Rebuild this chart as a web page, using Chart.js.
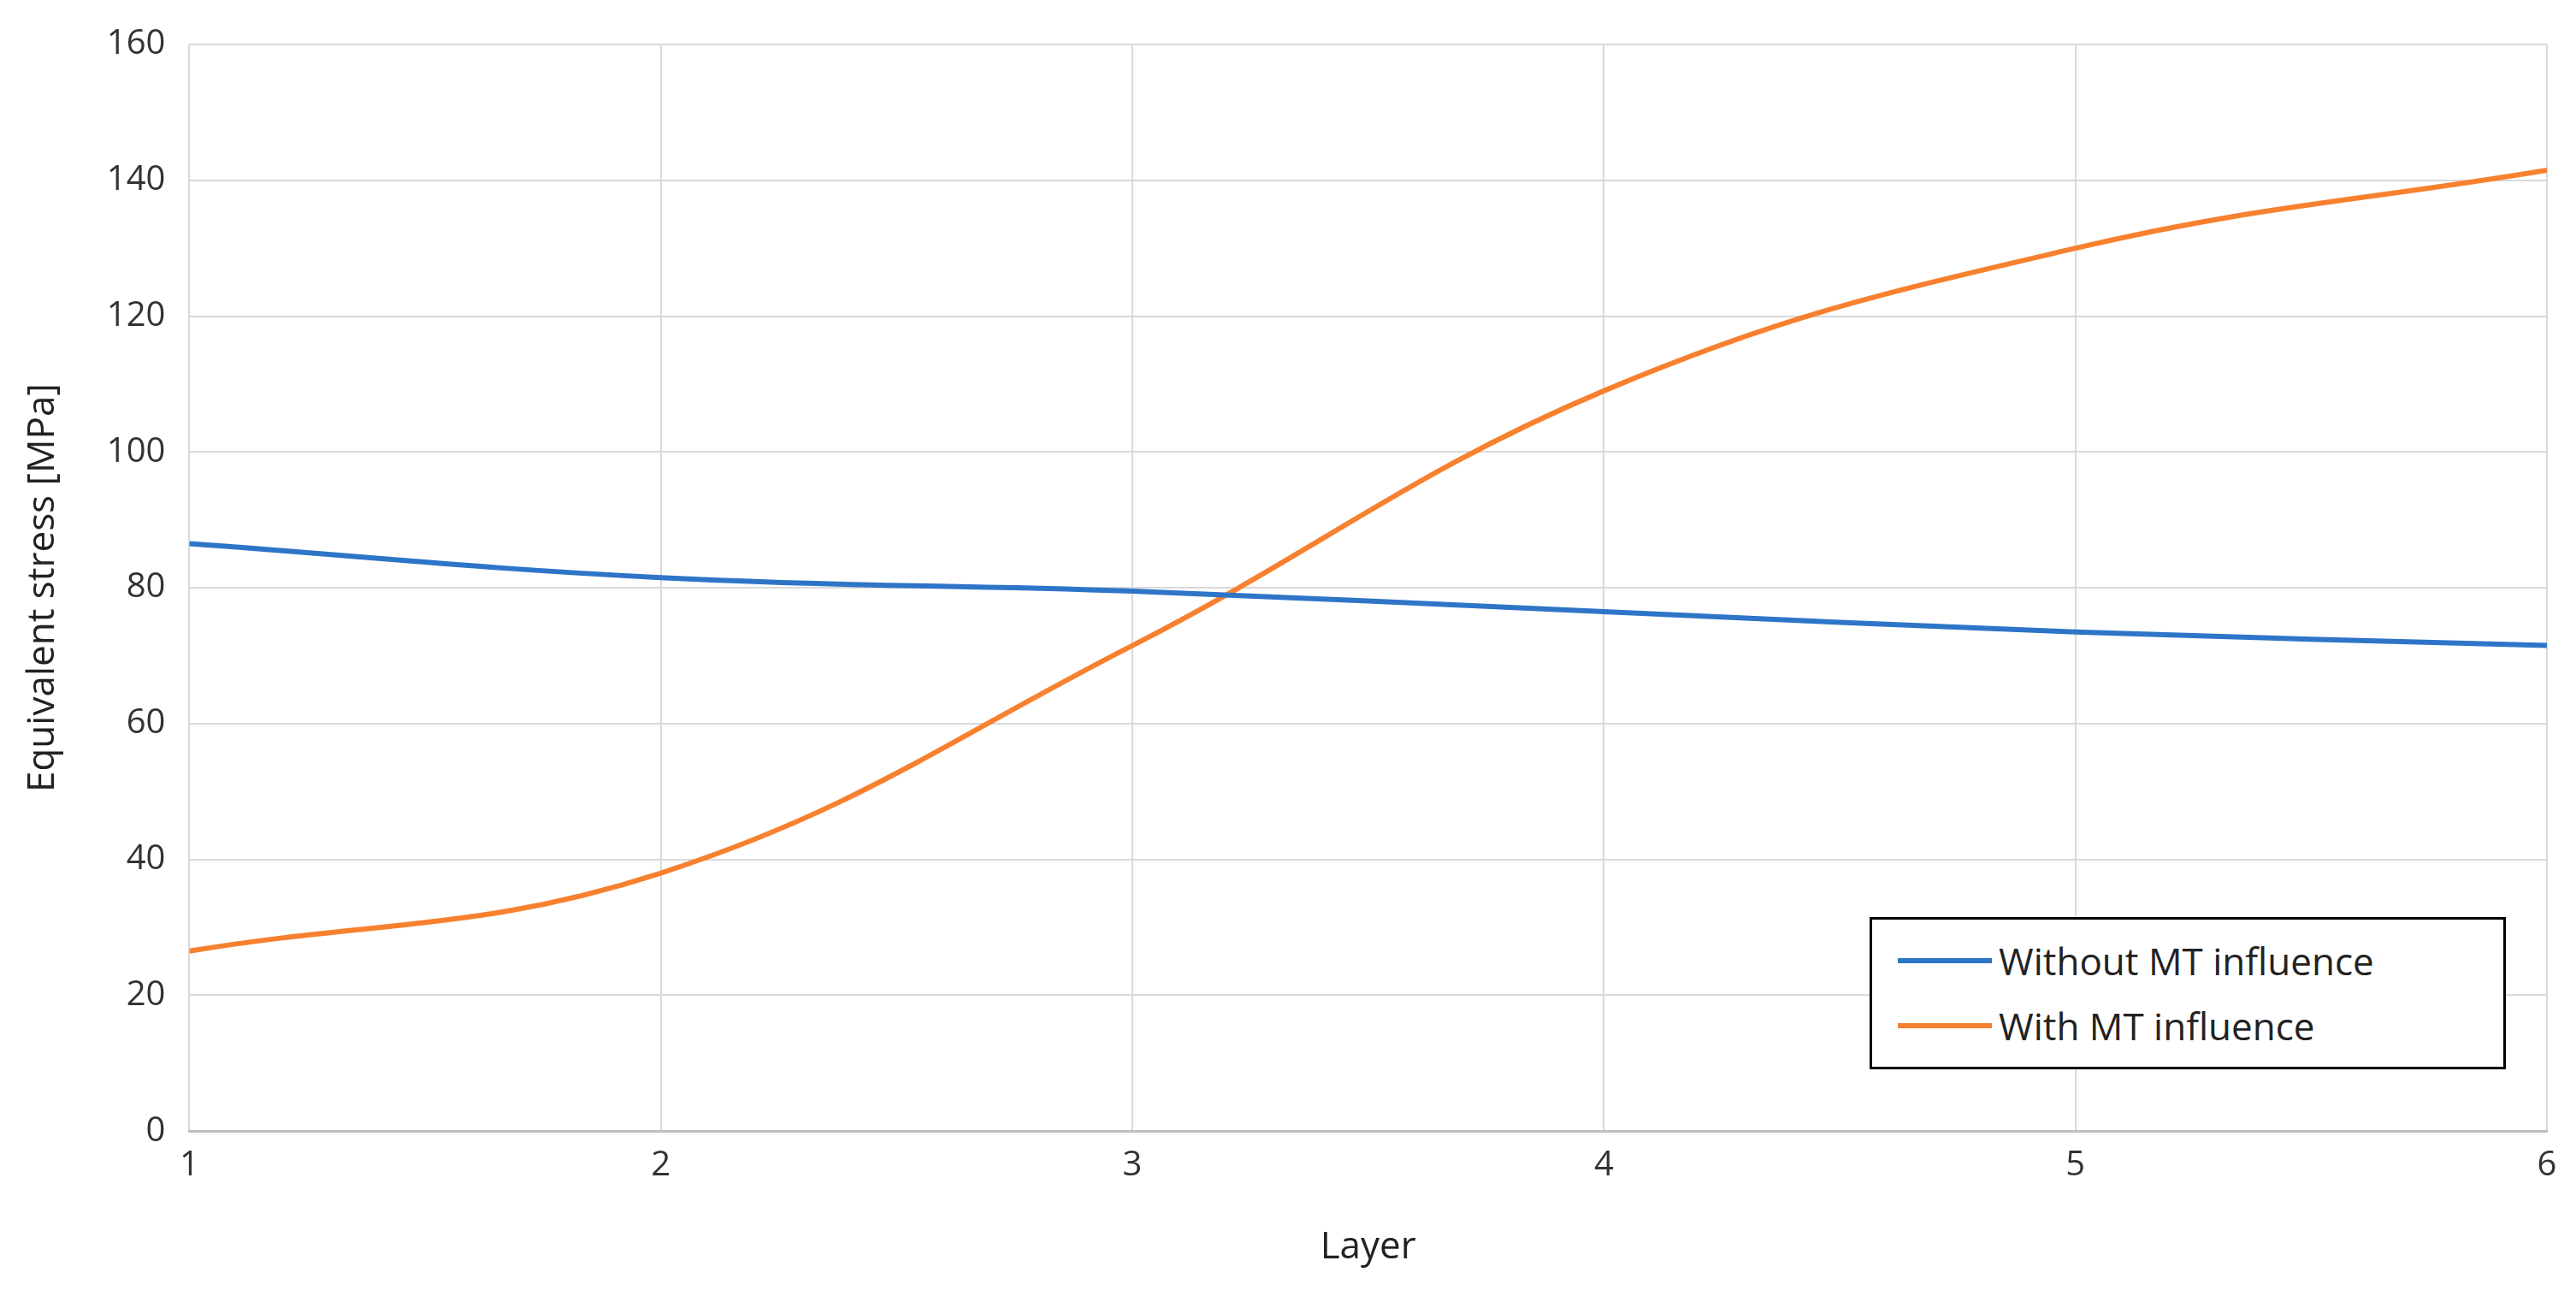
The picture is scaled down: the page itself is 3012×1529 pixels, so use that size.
<!DOCTYPE html>
<html>
<head>
<meta charset="utf-8">
<script src="https://cdn.jsdelivr.net/npm/chart.js@4"></script>
<style>
  html, body { margin: 0; padding: 0; background: #fff; }
  #wrap { position: relative; width: 3012px; height: 1529px; }
  #legend {
    position: absolute; left: 2186px; top: 1072px; width: 744px; height: 178px;
    border: 3px solid #000; background: #fff; box-sizing: border-box;
    font-family: "Open Sans", "Liberation Sans", sans-serif; font-size: 44px; color: #222;
    padding: 10px 0 0 30px;
  }
  .item { display: flex; align-items: center; height: 76px; }
  .swatch { width: 110px; height: 6px; margin-right: 8px; }
</style>
</head>
<body>
<div id="wrap">
  <canvas id="chart" width="3012" height="1529"></canvas>
  <div id="legend"></div>
</div>
<script>
const layers = [1, 2, 3, 4, 5, 6];
const withoutMT = [86.5, 81.5, 79.5, 76.5, 73.5, 71.5];
const withMT = [26.5, 38, 71.5, 109, 130, 141.5];
const seriesNames = ['Without MT influence', 'With MT influence'];
const seriesColors = ['#2e75c8', '#f7812f'];

const font = "'Open Sans', 'Liberation Sans', sans-serif";

function toPoints(vals) {
  return layers.map((x, i) => ({ x: x, y: vals[i] }));
}

new Chart(document.getElementById('chart'), {
  type: 'line',
  data: {
    datasets: [
      { label: seriesNames[0], data: toPoints(withoutMT), borderColor: seriesColors[0], borderWidth: 6, pointRadius: 0, tension: 0.4 },
      { label: seriesNames[1], data: toPoints(withMT), borderColor: seriesColors[1], borderWidth: 6, pointRadius: 0, tension: 0.4 },
    ],
  },
  options: {
    responsive: false,
    animation: false,
    layout: { padding: { left: 20, right: 34, top: 30, bottom: 40 } },
    plugins: { legend: { display: false }, tooltip: { enabled: false } },
    scales: {
      x: {
        type: 'linear', min: 1, max: 6,
        ticks: { stepSize: 1, color: '#333', font: { family: font, size: 40 }, padding: 16 },
        grid: { color: '#d9d9d9', lineWidth: 2, drawTicks: false },
        border: { color: '#bfbfbf', width: 3 },
        title: { display: true, text: 'Layer', color: '#222', font: { family: font, size: 44 }, padding: { top: 30 } },
      },
      y: {
        min: 0, max: 160,
        ticks: { stepSize: 20, color: '#333', font: { family: font, size: 40 }, padding: 28 },
        grid: { color: '#d9d9d9', lineWidth: 2, drawTicks: false },
        border: { display: false },
        title: { display: true, text: 'Equivalent stress [MPa]', color: '#222', font: { family: font, size: 44 }, padding: { bottom: 20 } },
      },
    },
  },
});

document.getElementById('legend').innerHTML = seriesNames.map((n, i) =>
  `<div class="item"><span class="swatch" style="background:${seriesColors[i]}"></span>${n}</div>`
).join('');
</script>
</body>
</html>
